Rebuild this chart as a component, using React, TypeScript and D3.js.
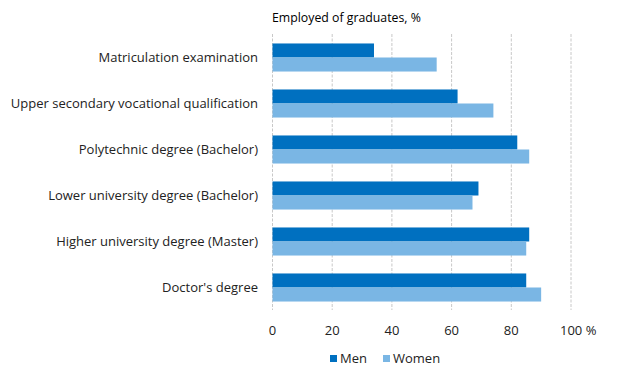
import React from "react";
import * as d3 from "d3";

const categories = [
  "Matriculation examination",
  "Upper secondary vocational qualification",
  "Polytechnic degree (Bachelor)",
  "Lower university degree (Bachelor)",
  "Higher university degree (Master)",
  "Doctor's degree",
];
const men = [34, 62, 82, 69, 86, 85];
const women = [55, 74, 86, 67, 85, 90];
const seriesNames = ["Men", "Women"];
const ticks = [0, 20, 40, 60, 80, 100];

const colors = ["#0070C0", "#7AB6E4"];
const FONT = "'Open Sans', 'Noto Sans', sans-serif";

export default function App() {
  const W = 617, H = 378;
  const x = d3.scaleLinear().domain([0, 100]).range([272.5, 571]);
  const y = d3.scaleBand<string>().domain(categories).range([34.5, 310.5]).paddingInner(0.39).paddingOuter(0.195);
  const sub = d3.scaleBand<string>().domain(seriesNames).range([0, y.bandwidth()]);
  const data = [men, women];
  return (
    <svg width={W} height={H} style={{ position: "absolute", left: 0, top: 0, background: "#fff" }}>
      <text x={272} y={22} fontFamily={FONT} fontSize={12.3} fill="#000">Employed of graduates, %</text>
      {ticks.map((t) => (
        <line key={t} x1={x(t)} x2={x(t)} y1={34} y2={310} stroke="#c8c8c8" strokeWidth={1} strokeDasharray="3,1.5" />
      ))}
      {categories.map((c, i) => (
        <g key={c}>
          {data.map((s, j) => (
            <rect key={j} x={x(0)} y={y(c)! + sub(seriesNames[j])!} width={x(s[i]) - x(0)} height={sub.bandwidth()} fill={colors[j]} />
          ))}
          <text x={258} y={y(c)! + y.bandwidth() / 2} dy="0.35em" textAnchor="end" fontFamily={FONT} fontSize={13} fill="#222">{c}</text>
        </g>
      ))}
      {ticks.map((t) => (
        <text key={t} x={x(t)} y={330} dy="0.35em" textAnchor={t === 100 ? "start" : "middle"} dx={t === 100 ? -11 : 0} fontFamily={FONT} fontSize={13} fill="#222">
          {t === 100 ? "100 %" : t}
        </text>
      ))}
      {seriesNames.map((n, j) => (
        <g key={n} transform={`translate(${[330, 383][j]},${355})`}>
          <rect x={0} y={0} width={7} height={7} fill={colors[j]} />
          <text x={10} y={3.5} dy="0.35em" fontFamily={FONT} fontSize={13} fill="#222">{n}</text>
        </g>
      ))}
    </svg>
  );
}
